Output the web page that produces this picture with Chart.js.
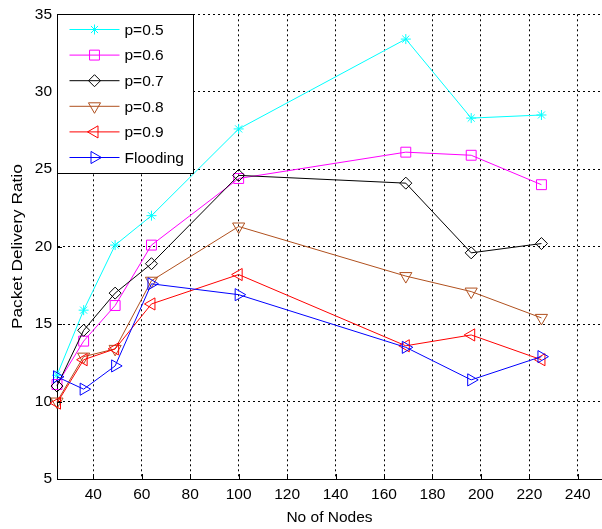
<!DOCTYPE html>
<html>
<head>
<meta charset="utf-8">
<title>Packet Delivery Ratio</title>
<script src="https://cdn.jsdelivr.net/npm/chart.js@4.4.0/dist/chart.umd.min.js"></script>
<style>
  html, body { margin: 0; padding: 0; background: #fff; }
  #chart { display: block; }
</style>
</head>
<body>
<canvas id="chart" width="602" height="529"></canvas>
<script>
// data
const nodes = [25, 36, 49, 64, 100, 169, 196, 225];
const p05 = [11.7, 15.9, 20.1, 22.0, 27.6, 33.4, 28.3, 28.5];
const p06 = [11.1, 13.9, 16.2, 20.1, 24.4, 26.1, 25.9, 24.0];
const p07 = [11.0, 14.6, 17.0, 18.9, 24.6, 24.1, 19.6, 20.2];
const p08 = [10.0, 12.9, 13.4, 17.8, 21.3, 18.1, 17.1, 15.4];
const p09 = [9.9, 12.7, 13.4, 16.3, 18.2, 13.6, 14.3, 12.7];
const flooding = [11.6, 10.8, 12.3, 17.6, 16.9, 13.5, 11.4, 12.9];

const seriesLabels = ['p=0.5', 'p=0.6', 'p=0.7', 'p=0.8', 'p=0.9', 'Flooding'];
const seriesValues = [p05, p06, p07, p08, p09, flooding];

const xTicks = [40, 60, 80, 100, 120, 140, 160, 180, 200, 220, 240];
const yTicks = [5, 10, 15, 20, 25, 30, 35];

const FONT = "'Liberation Sans', Arial, sans-serif";
const Y_TITLE = 'Packet Delivery Ratio';

// marker look for each series
const styles = [
    { color: '#00ffff', pointStyle: 'star', rotation: 0, radius: 5 },
    { color: '#ff00ff', pointStyle: 'rect', rotation: 0, radius: 7 },
    { color: '#000000', pointStyle: 'rectRot', rotation: 0, radius: 6 },
    { color: '#b0501e', pointStyle: 'triangle', rotation: 180, radius: 7 },
    { color: '#ff0000', pointStyle: 'triangle', rotation: 270, radius: 7 },
    { color: '#0000ff', pointStyle: 'triangle', rotation: 90, radius: 7 }
];

const datasets = seriesLabels.map(function(label, i) {
    const s = styles[i];
    return {
        label: label,
        data: nodes.map((n, j) => ({ x: n, y: seriesValues[i][j] })),
        borderColor: s.color,
        borderWidth: 1,
        backgroundColor: 'rgba(0,0,0,0)',
        pointStyle: s.pointStyle,
        pointRotation: s.rotation,
        pointRadius: s.radius,
        pointHoverRadius: s.radius,
        pointBorderColor: s.color,
        pointBackgroundColor: 'rgba(0,0,0,0)',
        pointBorderWidth: 1,
        tension: 0,
        fill: false,
        clip: false,
        order: seriesLabels.length - i
    };
});

// small inward tick marks + stretched y title, like the matlab export
const axisExtras = {
    id: 'axisExtras',
    afterDraw: function(chart) {
        const ctx = chart.ctx;
        const area = chart.chartArea;
        const xs = chart.scales.x, ys = chart.scales.y;
        ctx.save();
        ctx.strokeStyle = '#000';
        ctx.lineWidth = 1;
        ctx.beginPath();
        xTicks.forEach(function(v) {
            const px = Math.round(xs.getPixelForValue(v)) + 0.5;
            ctx.moveTo(px, area.bottom);
            ctx.lineTo(px, area.bottom - 5);
        });
        yTicks.forEach(function(v) {
            const py = Math.round(ys.getPixelForValue(v)) + 0.5;
            ctx.moveTo(area.left, py);
            ctx.lineTo(area.left + 5, py);
        });
        ctx.stroke();

        ctx.translate(18, (area.top + area.bottom) / 2);
        ctx.rotate(-Math.PI / 2);
        ctx.scale(1.15, 1);
        ctx.font = '15px ' + FONT;
        ctx.fillStyle = '#000';
        ctx.textAlign = 'center';
        ctx.textBaseline = 'middle';
        ctx.fillText(Y_TITLE, 0, 0);
        ctx.restore();
    }
};

// matlab style legend box in the top left corner
const boxLegend = {
    id: 'boxLegend',
    afterDraw: function(chart) {
        const ctx = chart.ctx;
        const area = chart.chartArea;
        const x0 = Math.round(area.left) + 0.5;
        const y0 = Math.round(area.top) + 0.5;
        const w = 136, h = 159;
        ctx.save();
        ctx.fillStyle = '#fff';
        ctx.fillRect(x0, y0, w, h);
        ctx.strokeStyle = '#000';
        ctx.lineWidth = 1;
        ctx.strokeRect(x0, y0, w, h);

        ctx.font = '15.5px ' + FONT;
        ctx.textBaseline = 'middle';
        ctx.textAlign = 'left';
        chart.data.datasets.forEach(function(ds, i) {
            const y = y0 + 15 + i * 25.6;
            ctx.strokeStyle = ds.borderColor;
            ctx.lineWidth = 1;
            ctx.beginPath();
            ctx.moveTo(x0 + 12, y);
            ctx.lineTo(x0 + 62, y);
            ctx.stroke();
            ctx.fillStyle = 'rgba(0,0,0,0)';
            Chart.helpers.drawPoint(ctx, {
                pointStyle: ds.pointStyle,
                rotation: ds.pointRotation,
                radius: ds.pointRadius,
                borderWidth: 1
            }, x0 + 37, y);
            ctx.fillStyle = '#000';
            ctx.fillText(ds.label, x0 + 67, y + 1);
        });
        ctx.restore();
    }
};

const ctx = document.getElementById('chart').getContext('2d');
const chart = new Chart(ctx, {
    type: 'line',
    data: { datasets: datasets },
    options: {
        responsive: false,
        animation: false,
        devicePixelRatio: 1,
        layout: { autoPadding: false, padding: { top: 13, right: 0, bottom: 0, left: 0 } },
        plugins: {
            legend: { display: false },
            tooltip: { enabled: false }
        },
        scales: {
            x: {
                type: 'linear',
                min: 25,
                max: 250,
                afterBuildTicks: function(axis) {
                    axis.ticks = xTicks.map(v => ({ value: v }));
                },
                afterFit: function(axis) {
                    axis.height = 50;
                },
                grid: {
                    color: '#000',
                    lineWidth: 1,
                    drawTicks: false
                },
                border: { display: true, color: '#000', width: 1, dash: [2, 3] },
                ticks: {
                    color: '#000',
                    padding: 6,
                    maxRotation: 0,
                    font: { family: FONT, size: 15.5 }
                },
                title: {
                    display: true,
                    text: 'No of Nodes',
                    color: '#000',
                    padding: { top: 0, bottom: 2 },
                    font: { family: FONT, size: 15.5 }
                }
            },
            y: {
                min: 5,
                max: 35,
                afterBuildTicks: function(axis) {
                    axis.ticks = yTicks.map(v => ({ value: v }));
                },
                afterFit: function(axis) {
                    axis.width = 57;
                },
                grid: {
                    color: '#000',
                    lineWidth: 1,
                    drawTicks: false
                },
                border: { display: true, color: '#000', width: 1, dash: [2, 3] },
                ticks: {
                    color: '#000',
                    padding: 5,
                    font: { family: FONT, size: 15.5 }
                },
                title: { display: false }
            }
        }
    },
    plugins: [axisExtras, boxLegend]
});
</script>
</body>
</html>
